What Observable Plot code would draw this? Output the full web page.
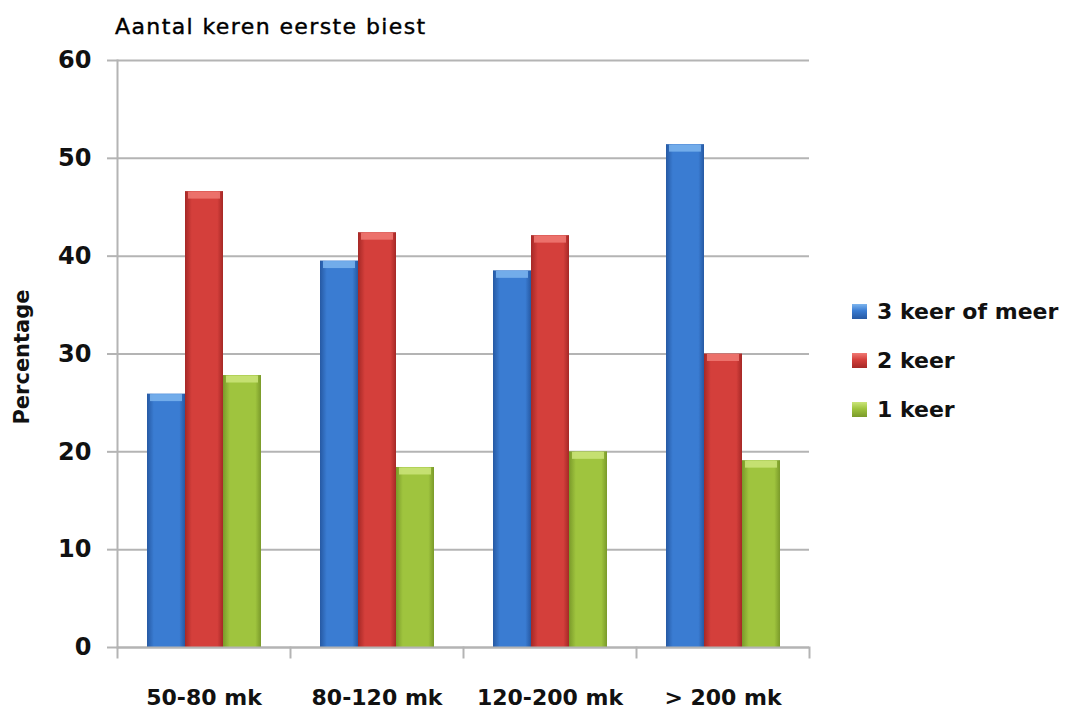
<!DOCTYPE html>
<html>
<head>
<meta charset="utf-8">
<script src="https://cdn.jsdelivr.net/npm/d3@7"></script>
<script src="https://cdn.jsdelivr.net/npm/@observablehq/plot@0.6"></script>
<style>
  body { margin: 0; background: #fff; }
  #wrap { position: relative; width: 1070px; height: 722px; overflow: hidden; font-family: "DejaVu Sans", sans-serif; }
  #title { position: absolute; left: 115px; top: 14px; font-size: 22px; letter-spacing: 1.4px; color: #000; white-space: nowrap; -webkit-text-stroke: 0.4px #000; }
  #ylab { position: absolute; left: 22px; top: 357px; transform: translate(-50%, -50%) rotate(-90deg); font-size: 21px; font-weight: bold; color: #111; white-space: nowrap; }
  #legend { position: absolute; left: 852px; top: 287px; }
  .item { display: flex; align-items: center; height: 49px; font-size: 22px; font-weight: bold; color: #111; white-space: nowrap; }
  .sw { width: 15px; height: 15px; margin-right: 10px; }
  #chart { position: absolute; left: 0; top: 0; }
</style>
</head>
<body>
<div id="wrap">
  <div id="chart"></div>
  <div id="title">Aantal keren eerste biest</div>
  <div id="ylab">Percentage</div>
  <div id="legend"></div>
</div>
<script>
const categories = ["50-80 mk", "80-120 mk", "120-200 mk", "> 200 mk"];
const series = ["3 keer of meer", "2 keer", "1 keer"];
const drieKeerOfMeer = [25.9, 39.5, 38.5, 51.4];
const tweeKeer = [46.6, 42.4, 42.1, 30.0];
const eenKeer = [27.8, 18.4, 20.0, 19.1];
const yTicks = [0, 10, 20, 30, 40, 50, 60];

const baseColors = ["#3a7cd2", "#d43f3b", "#9fc43e"];
const edgeColors = ["#2659a3", "#a52826", "#7a9a2a"];
const capColors = ["#7db5ee", "#f07a74", "#cbe57a"];
const gradIds = ["gBlue", "gRed", "gGreen"];

const valuesBySeries = [drieKeerOfMeer, tweeKeer, eenKeer];
const table = [];
categories.forEach((c, i) => {
  series.forEach((s, j) => table.push({cat: c, series: s, value: valuesBySeries[j][i]}));
});

const gridColor = "#b4b4b4";

const chart = Plot.plot({
  width: 1070,
  height: 722,
  marginLeft: 116,
  marginRight: 260,
  marginTop: 60,
  marginBottom: 75,
  style: {fontFamily: "DejaVu Sans, sans-serif", background: "transparent", color: "#111"},
  fx: {domain: categories, padding: 0, label: null, axis: null},
  x: {domain: series, paddingInner: 0, paddingOuter: 0.72, axis: null},
  y: {domain: [0, 60], label: null},
  color: {domain: series, range: gradIds.map(id => `url(#${id})`)},
  marks: [
    Plot.gridY(yTicks, {stroke: gridColor, strokeOpacity: 1, strokeWidth: 2}),
    Plot.axisY(yTicks, {tickSize: 10, tickPadding: 16, stroke: gridColor, strokeWidth: 2, fill: "#111", fontSize: 24, fontWeight: "bold", tickFormat: d => d, label: null}),
    Plot.axisFx({anchor: "bottom", tickSize: 0, tickPadding: 42, fontSize: 22, fontWeight: "bold", fill: "#111", label: null}),
    Plot.barY(table, {fx: "cat", x: "series", y: "value", fill: "series"}),
    ...series.map((s, j) => Plot.tickY(table.filter(d => d.series === s), {fx: "cat", x: "series", y: "value", stroke: capColors[j], strokeWidth: 7, dy: 3.5, inset: 3, strokeOpacity: 0.85})),
    Plot.ruleY([0], {stroke: gridColor, strokeWidth: 2}),
    Plot.frame({anchor: "left", facetAnchor: "left", stroke: gridColor, strokeWidth: 2}),
    Plot.frame({anchor: "left", insetTop: 587, insetBottom: -10, stroke: gridColor, strokeWidth: 2}),
    Plot.frame({anchor: "right", facetAnchor: "right", insetTop: 587, insetBottom: -10, stroke: gridColor, strokeWidth: 2})
  ]
});

// gradient definitions for the glossy bars
const svg = d3.select(chart);
const defs = svg.insert("defs", ":first-child");
gradIds.forEach((id, j) => {
  const g = defs.append("linearGradient").attr("id", id).attr("x1", "0").attr("x2", "1").attr("y1", "0").attr("y2", "0");
  g.append("stop").attr("offset", "0%").attr("stop-color", edgeColors[j]);
  g.append("stop").attr("offset", "18%").attr("stop-color", baseColors[j]);
  g.append("stop").attr("offset", "55%").attr("stop-color", baseColors[j]);
  g.append("stop").attr("offset", "85%").attr("stop-color", baseColors[j]);
  g.append("stop").attr("offset", "100%").attr("stop-color", edgeColors[j]);
});

document.getElementById("chart").appendChild(chart);

const legend = d3.select("#legend");
series.forEach((s, j) => {
  const it = legend.append("div").attr("class", "item");
  it.append("div").attr("class", "sw").style("background", `linear-gradient(${capColors[j]}, ${baseColors[j]} 45%, ${edgeColors[j]})`);
  it.append("span").text(s);
});
</script>
</body>
</html>
